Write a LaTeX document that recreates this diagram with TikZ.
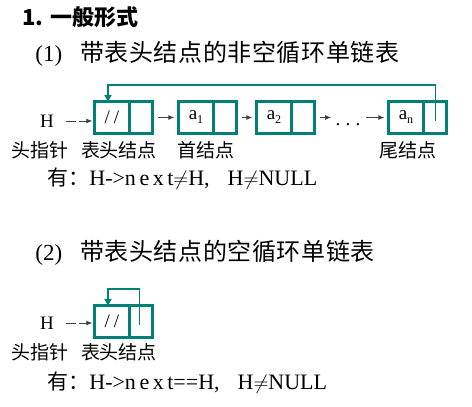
\documentclass[tikz,border=0pt]{standalone}
\usepackage{fontspec}
\setmainfont{Liberation Serif}
\newfontfamily\cjk{Noto Sans CJK SC}
\newfontfamily\cjkwide{Noto Sans CJK SC}[LetterSpace=2.5]
\newfontfamily\spaced{Liberation Serif}[LetterSpace=16]
\usetikzlibrary{positioning,arrows.meta}
\definecolor{nodeteal}{RGB}{0,128,118}
\tikzset{every picture/.style={line width=0.75pt}}
\tikzset{
  datapart/.style={draw=nodeteal, line width=1.2pt, minimum width=34pt, minimum height=31pt, inner sep=0pt, font=\fontsize{19}{19}\selectfont},
  ptrpart/.style={draw=nodeteal, line width=1.2pt, minimum width=22pt, minimum height=31pt, inner sep=0pt},
  outerbox/.style={draw=nodeteal, line width=3pt},
  link/.style={draw=black!75, -{Latex[length=6pt,width=5pt]}, line width=1pt, shorten >=4pt, shorten <=5pt},
  headlink/.style={link, dash pattern=on 10pt off 3pt, shorten <=12pt, shorten >=2pt},
  backlink/.style={draw=nodeteal, line width=1.2pt, -{Latex[length=8pt,width=8pt]}},
  title/.style={anchor=west, inner sep=0pt, font=\cjk\bfseries\fontsize{22}{22}\selectfont},
  heading/.style={anchor=west, inner sep=0pt, font=\cjkwide\fontsize{24}{24}\selectfont},
  label/.style={inner sep=0pt, font=\cjk\fontsize{19}{19}\selectfont},
  formula/.style={anchor=west, inner sep=0pt, font=\fontsize{22}{22}\selectfont},
  ptrname/.style={inner sep=0pt, font=\fontsize{19}{19}\selectfont}
}
\newcommand{\sub}[1]{\raisebox{-4pt}{\fontsize{12}{12}\selectfont #1}}

\begin{document}
\begin{tikzpicture}[x=1pt,y=-1pt]
\useasboundingbox (0,0) rectangle (472,407);

% titles
\node[title] (t1) at (22,17) {1. 一般形式};
\node[heading] (t2) at (35,54) {{\rmfamily\fontsize{23}{23}\selectfont(1)}\hspace{18pt}带表头结点的非空循环单链表};

%% (1) non-empty circular list
\node[ptrname] (H1) at (47,121) {H};
\node[datapart] (hd) at (112,117.5) {/\hspace{4pt}/};
\node[ptrpart, right=0pt of hd] (hp) {};
\node[datapart] (a1d) at (196,117.5) {a\sub{1}};
\node[ptrpart, right=0pt of a1d] (a1p) {};
\node[datapart] (a2d) at (274,117.5) {a\sub{2}};
\node[ptrpart, right=0pt of a2d] (a2p) {};
\node[inner sep=0pt, font=\fontsize{19}{19}\selectfont] (dots) at (348,125) {.\hspace{5.3pt}.\hspace{5.3pt}.};
\node[datapart] (and) at (406,117.5) {a\sub{n}};
\node[ptrpart, right=0pt of and] (anp) {};

\draw[outerbox] (hd.north west) rectangle (hp.south east);
\draw[outerbox] (a1d.north west) rectangle (a1p.south east);
\draw[outerbox] (a2d.north west) rectangle (a2p.south east);
\draw[outerbox] (and.north west) rectangle (anp.south east);

\draw[headlink] (H1.east) -- (hd.west |- H1.east);
\draw[link] (hp.east) -- (a1d.west);
\draw[link] (a1p.east) -- (a2d.west);
\draw[link] (a2p.east) -- (dots.west |- a2p.east);
\draw[link] (dots.east |- and.west) -- (and.west);
\coordinate (top1) at (108,85);
\draw[backlink] ([yshift=-3pt]anp.center) |- (top1) -- ([yshift=-1.5pt]top1 |- hd.north);

\node[label] (l1) at (40,150) {头指针};
\node[label] (l2) at (119,150) {表头结点};
\node[label] (l3) at (206,150) {首结点};
\node[label] (l4) at (408,150) {尾结点};
\node[formula] (f1) at (47,179) {{\cjk\fontsize{21}{21}\selectfont 有：}H->{\spaced next}$\neq$H,\hspace{18pt}H$\neq$NULL};

%% (2) empty circular list
\node[heading] (t3) at (35,253) {{\rmfamily\fontsize{23}{23}\selectfont(2)}\hspace{18pt}带表头结点的空循环单链表};
\node[ptrname] (H2) at (47,323) {H};
\node[datapart] (ed) at (112,321.5) {/\hspace{4pt}/};
\node[ptrpart, right=0pt of ed] (ep) {};
\draw[outerbox] (ed.north west) rectangle (ep.south east);
\draw[headlink] (H2.east) -- (ed.west |- H2.east);
\coordinate (top2) at (108,289);
\draw[backlink] ([xshift=-2pt,yshift=-3pt]ep.center) |- (top2) -- ([yshift=-1.5pt]top2 |- ed.north);

\node[label] (l5) at (40,352) {头指针};
\node[label] (l6) at (119,352) {表头结点};
\node[formula] (f2) at (47,383) {{\cjk\fontsize{21}{21}\selectfont 有：}H->{\spaced next}==H,\hspace{18pt}H$\neq$NULL};
\end{tikzpicture}
\end{document}
